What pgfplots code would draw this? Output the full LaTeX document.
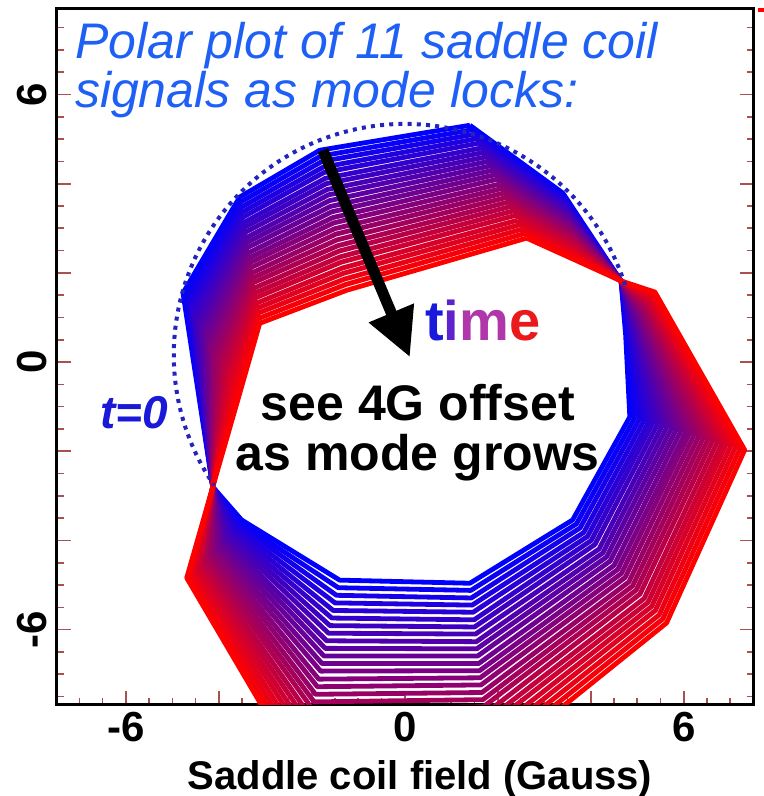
\documentclass[border=0pt]{standalone}
\usepackage{pgfplots}
\pgfplotsset{compat=1.18}
\usepackage{fontspec}
\setmainfont{Liberation Sans}
\usetikzlibrary{arrows.meta}

\definecolor{titleblue}{RGB}{30,95,245}
\definecolor{tzero}{RGB}{25,25,215}
\definecolor{circblue}{RGB}{35,35,190}
\definecolor{tickred}{RGB}{170,80,80}
\definecolor{tT}{RGB}{25,25,220}
\definecolor{tI}{RGB}{95,35,205}
\definecolor{tM}{RGB}{175,55,170}
\definecolor{tE}{RGB}{235,25,25}

\newcommand\fsz[1]{\fontsize{#1}{#1}\selectfont}

\begin{document}
\begin{tikzpicture}
\useasboundingbox (-28.5bp,-45.5bp) rectangle (353.5bp,352.5bp);
\begin{axis}[
  at={(0,0)}, anchor=south west,
  scale only axis, width=348.5bp, height=348.5bp,
  xmin=-7.48, xmax=7.51, ymin=-7.69, ymax=7.94,
  axis line style={line width=1.5bp, black},
  tick align=inside,
  xtick={-6,-4,...,6}, xticklabels={-6,,,0,,,6},
  ytick={-6,-4,...,6}, yticklabels={-6,,,0,,,6},
  minor xtick={-7.5,-7,...,7.5}, minor ytick={-7.5,-7,...,7.5},
  xtick pos=left, ytick pos=both,
  major tick length=7bp, minor tick length=3.5bp,
  tick style={color=tickred, line width=0.8bp},
  ticklabel style={font=\bfseries\fsz{21bp}},
  yticklabel style={rotate=90, anchor=south, inner sep=5bp},
  every axis plot/.append style={no marks, line width=2.4bp, line join=round},
]
% saddle coil polar traces, 11 coils plus the closing point, early (blue) to late (red)
\addplot[color=red!0!blue] coordinates {(1.40,5.31) (3.40,3.79) (4.65,1.82) (4.75,0.61) (4.84,-1.23) (3.61,-3.54) (1.40,-4.96) (-1.40,-4.89) (-3.51,-3.54) (-4.13,-2.80) (-4.77,1.55) (-3.55,3.70) (-1.83,4.75) (1.40,5.31)};
\addplot[color=red!4!blue] coordinates {(1.45,5.21) (3.41,3.73) (4.65,1.82) (4.78,0.65) (4.94,-1.26) (3.69,-3.63) (1.42,-5.12) (-1.43,-5.06) (-3.56,-3.59) (-4.13,-2.80) (-4.72,1.46) (-3.53,3.59) (-1.81,4.62) (1.45,5.21)};
\addplot[color=red!8!blue] coordinates {(1.50,5.11) (3.42,3.67) (4.65,1.82) (4.80,0.69) (5.04,-1.29) (3.77,-3.72) (1.43,-5.29) (-1.47,-5.23) (-3.60,-3.64) (-4.13,-2.80) (-4.67,1.37) (-3.52,3.47) (-1.78,4.50) (1.50,5.11)};
\addplot[color=red!12!blue] coordinates {(1.55,5.01) (3.43,3.61) (4.65,1.82) (4.83,0.73) (5.14,-1.32) (3.85,-3.82) (1.45,-5.45) (-1.50,-5.40) (-3.65,-3.70) (-4.13,-2.80) (-4.62,1.28) (-3.50,3.36) (-1.76,4.37) (1.55,5.01)};
\addplot[color=red!16!blue] coordinates {(1.60,4.91) (3.44,3.55) (4.65,1.82) (4.85,0.76) (5.24,-1.35) (3.93,-3.91) (1.47,-5.61) (-1.54,-5.57) (-3.70,-3.75) (-4.13,-2.80) (-4.57,1.19) (-3.48,3.25) (-1.74,4.25) (1.60,4.91)};
\addplot[color=red!20!blue] coordinates {(1.64,4.80) (3.45,3.49) (4.65,1.82) (4.88,0.80) (5.33,-1.38) (4.01,-4.00) (1.49,-5.78) (-1.57,-5.74) (-3.75,-3.80) (-4.13,-2.80) (-4.53,1.10) (-3.46,3.13) (-1.71,4.12) (1.64,4.80)};
\addplot[color=red!24!blue] coordinates {(1.69,4.70) (3.46,3.43) (4.65,1.82) (4.90,0.84) (5.43,-1.41) (4.09,-4.09) (1.50,-5.94) (-1.61,-5.91) (-3.79,-3.85) (-4.13,-2.80) (-4.48,1.01) (-3.45,3.02) (-1.69,4.00) (1.69,4.70)};
\addplot[color=red!28!blue] coordinates {(1.74,4.60) (3.47,3.37) (4.65,1.82) (4.93,0.88) (5.53,-1.44) (4.18,-4.19) (1.52,-6.10) (-1.64,-6.08) (-3.84,-3.90) (-4.13,-2.80) (-4.43,0.92) (-3.43,2.91) (-1.67,3.87) (1.74,4.60)};
\addplot[color=red!32!blue] coordinates {(1.79,4.50) (3.48,3.31) (4.65,1.82) (4.95,0.92) (5.63,-1.47) (4.26,-4.28) (1.54,-6.27) (-1.68,-6.25) (-3.89,-3.96) (-4.13,-2.80) (-4.38,0.83) (-3.41,2.79) (-1.64,3.75) (1.79,4.50)};
\addplot[color=red!36!blue] coordinates {(1.84,4.40) (3.49,3.25) (4.65,1.82) (4.98,0.96) (5.73,-1.50) (4.34,-4.37) (1.55,-6.43) (-1.71,-6.42) (-3.93,-4.01) (-4.13,-2.80) (-4.33,0.74) (-3.40,2.68) (-1.62,3.62) (1.84,4.40)};
\addplot[color=red!40!blue] coordinates {(1.89,4.30) (3.50,3.19) (4.65,1.82) (5.00,0.99) (5.83,-1.53) (4.42,-4.46) (1.57,-6.59) (-1.74,-6.59) (-3.98,-4.06) (-4.13,-2.80) (-4.28,0.65) (-3.38,2.57) (-1.60,3.49) (1.89,4.30)};
\addplot[color=red!44!blue] coordinates {(1.94,4.20) (3.51,3.13) (4.65,1.82) (5.03,1.03) (5.93,-1.56) (4.50,-4.56) (1.59,-6.76) (-1.78,-6.76) (-4.03,-4.11) (-4.13,-2.80) (-4.23,0.56) (-3.36,2.45) (-1.57,3.37) (1.94,4.20)};
\addplot[color=red!48!blue] coordinates {(1.99,4.10) (3.52,3.07) (4.65,1.82) (5.05,1.07) (6.03,-1.59) (4.58,-4.65) (1.61,-6.92) (-1.81,-6.93) (-4.08,-4.16) (-4.13,-2.80) (-4.18,0.47) (-3.34,2.34) (-1.55,3.24) (1.99,4.10)};
\addplot[color=red!52!blue] coordinates {(2.03,3.99) (3.54,3.01) (4.65,1.82) (5.08,1.11) (6.12,-1.61) (4.66,-4.74) (1.62,-7.08) (-1.85,-7.11) (-4.12,-4.22) (-4.13,-2.80) (-4.14,0.38) (-3.33,2.23) (-1.53,3.12) (2.03,3.99)};
\addplot[color=red!56!blue] coordinates {(2.08,3.89) (3.55,2.95) (4.65,1.82) (5.10,1.15) (6.22,-1.64) (4.74,-4.83) (1.64,-7.24) (-1.88,-7.28) (-4.17,-4.27) (-4.13,-2.80) (-4.09,0.29) (-3.31,2.12) (-1.51,2.99) (2.08,3.89)};
\addplot[color=red!60!blue] coordinates {(2.13,3.79) (3.56,2.89) (4.65,1.82) (5.13,1.19) (6.32,-1.67) (4.82,-4.93) (1.66,-7.41) (-1.92,-7.45) (-4.22,-4.32) (-4.13,-2.80) (-4.04,0.20) (-3.29,2.00) (-1.48,2.87) (2.13,3.79)};
\addplot[color=red!64!blue] coordinates {(2.18,3.69) (3.57,2.83) (4.65,1.82) (5.15,1.22) (6.42,-1.70) (4.90,-5.02) (1.68,-7.57) (-1.95,-7.62) (-4.27,-4.37) (-4.13,-2.80) (-3.99,0.11) (-3.27,1.89) (-1.46,2.74) (2.18,3.69)};
\addplot[color=red!68!blue] coordinates {(2.23,3.59) (3.58,2.77) (4.65,1.82) (5.18,1.26) (6.52,-1.73) (4.98,-5.11) (1.69,-7.73) (-1.98,-7.79) (-4.31,-4.42) (-4.13,-2.80) (-3.94,0.02) (-3.26,1.78) (-1.44,2.61) (2.23,3.59)};
\addplot[color=red!72!blue] coordinates {(2.28,3.49) (3.59,2.71) (4.65,1.82) (5.20,1.30) (6.62,-1.76) (5.06,-5.20) (1.71,-7.90) (-2.02,-7.96) (-4.36,-4.48) (-4.13,-2.80) (-3.89,-0.07) (-3.24,1.66) (-1.41,2.49) (2.28,3.49)};
\addplot[color=red!76!blue] coordinates {(2.33,3.39) (3.60,2.65) (4.65,1.82) (5.23,1.34) (6.72,-1.79) (5.15,-5.30) (1.73,-8.06) (-2.05,-8.13) (-4.41,-4.53) (-4.13,-2.80) (-3.84,-0.16) (-3.22,1.55) (-1.39,2.36) (2.33,3.39)};
\addplot[color=red!80!blue] coordinates {(2.38,3.29) (3.61,2.59) (4.65,1.82) (5.25,1.38) (6.82,-1.82) (5.23,-5.39) (1.74,-8.22) (-2.09,-8.30) (-4.45,-4.58) (-4.13,-2.80) (-3.79,-0.25) (-3.21,1.44) (-1.37,2.24) (2.38,3.29)};
\addplot[color=red!84!blue] coordinates {(2.42,3.18) (3.62,2.53) (4.65,1.82) (5.28,1.42) (6.91,-1.85) (5.31,-5.48) (1.76,-8.39) (-2.12,-8.47) (-4.50,-4.63) (-4.13,-2.80) (-3.75,-0.34) (-3.19,1.32) (-1.34,2.11) (2.42,3.18)};
\addplot[color=red!88!blue] coordinates {(2.47,3.08) (3.63,2.47) (4.65,1.82) (5.30,1.45) (7.01,-1.88) (5.39,-5.57) (1.78,-8.55) (-2.16,-8.64) (-4.55,-4.68) (-4.13,-2.80) (-3.70,-0.43) (-3.17,1.21) (-1.32,1.99) (2.47,3.08)};
\addplot[color=red!92!blue] coordinates {(2.52,2.98) (3.64,2.41) (4.65,1.82) (5.33,1.49) (7.11,-1.91) (5.47,-5.67) (1.80,-8.71) (-2.19,-8.81) (-4.60,-4.74) (-4.13,-2.80) (-3.65,-0.52) (-3.15,1.10) (-1.30,1.86) (2.52,2.98)};
\addplot[color=red!96!blue] coordinates {(2.57,2.88) (3.65,2.35) (4.65,1.82) (5.35,1.53) (7.21,-1.94) (5.55,-5.76) (1.81,-8.88) (-2.23,-8.98) (-4.64,-4.79) (-4.13,-2.80) (-3.60,-0.61) (-3.14,0.98) (-1.27,1.74) (2.57,2.88)};
\addplot[color=red!100!blue] coordinates {(2.62,2.78) (3.66,2.29) (4.65,1.82) (5.38,1.57) (7.31,-1.97) (5.63,-5.85) (1.83,-9.04) (-2.26,-9.15) (-4.69,-4.84) (-4.13,-2.80) (-3.55,-0.70) (-3.12,0.87) (-1.25,1.61) (2.62,2.78)};

% reference circle at t=0
\draw[circblue, line width=2bp, dash pattern=on 2bp off 2.6bp]
  (axis cs:4.738,1.726) arc[start angle=17.6, end angle=214.4, x radius=4.97, y radius=5.18];

% arrow showing the direction of time
\draw[black, line width=5.5bp, -{Triangle[width=23bp,length=24bp]}]
  (axis cs:-1.76,4.75) -- (axis cs:0.11,0.11);

\node[anchor=north west, align=left, text=titleblue,
      font=\itshape\fontsize{25bp}{21.5bp}\selectfont, inner sep=0pt]
  at (axis cs:-7.10,7.63) {Polar plot of 11 saddle coil\\signals as mode locks:};
\node[anchor=base west, font=\bfseries\fsz{28bp}, inner sep=0pt]
  at (axis cs:0.43,0.49) {\textcolor{tT}{t}\textcolor{tI}{i}\textcolor{tM}{m}\textcolor{tE}{e}};
\node[anchor=base west, text=tzero, font=\bfseries\itshape\fsz{23bp}, inner sep=0pt]
  at (axis cs:-6.56,-1.48) {t=0};
\node[anchor=north, align=center, font=\bfseries\fontsize{25bp}{25bp}\selectfont, inner sep=0pt]
  at (axis cs:0.28,-0.49) {see 4G offset\\as mode grows};
\end{axis}
\node[anchor=base, font=\bfseries\fsz{20bp}, inner sep=0pt] at (181.5bp,-42bp) {Saddle coil field (Gauss)};
\fill[red] (350.5bp,346.5bp) rectangle (353.5bp,348.5bp);
\end{tikzpicture}
\end{document}
